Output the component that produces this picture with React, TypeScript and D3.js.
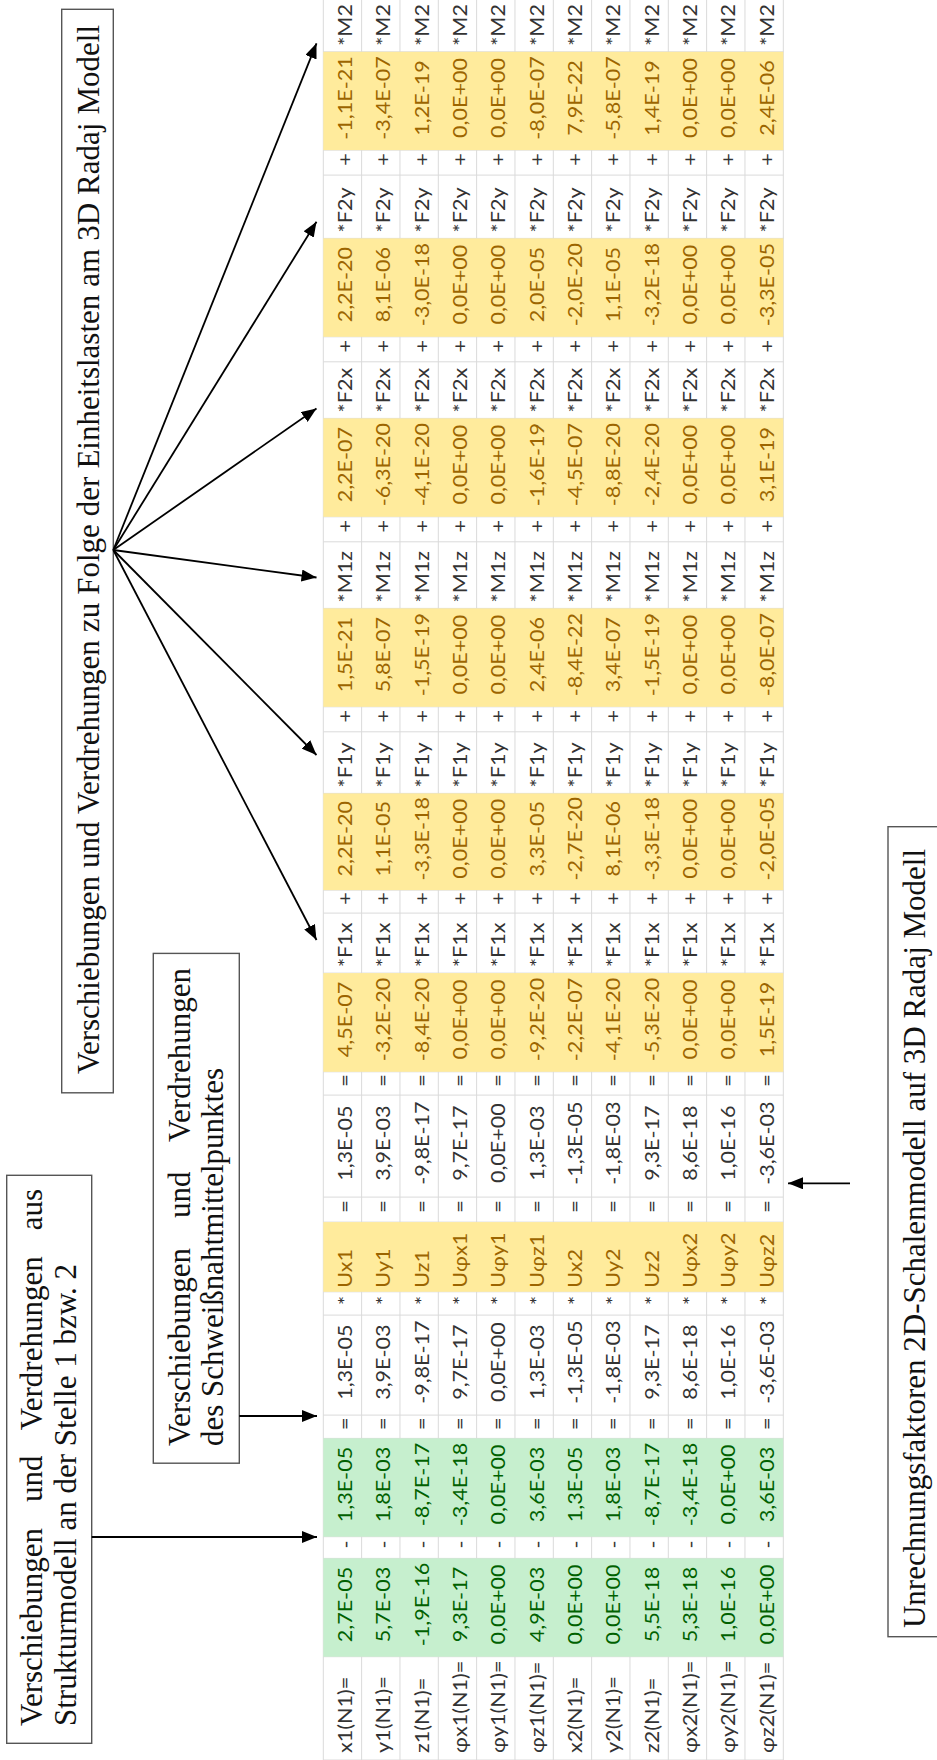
import React, { useEffect, useRef } from "react";
import * as d3 from "d3";

// ---------- data ----------
const rowLabels = ["x1(N1)=", "y1(N1)=", "z1(N1)=", "φx1(N1)=", "φy1(N1)=", "φz1(N1)=", "x2(N1)=", "y2(N1)=", "z2(N1)=", "φx2(N1)=", "φy2(N1)=", "φz2(N1)="];
const struct3D = ["2,7E-05", "5,7E-03", "-1,9E-16", "9,3E-17", "0,0E+00", "4,9E-03", "0,0E+00", "0,0E+00", "5,5E-18", "5,3E-18", "1,0E-16", "0,0E+00"];
const shell2D = ["1,3E-05", "1,8E-03", "-8,7E-17", "-3,4E-18", "0,0E+00", "3,6E-03", "1,3E-05", "1,8E-03", "-8,7E-17", "-3,4E-18", "0,0E+00", "3,6E-03"];
const diffVals = ["1,3E-05", "3,9E-03", "-9,8E-17", "9,7E-17", "0,0E+00", "1,3E-03", "-1,3E-05", "-1,8E-03", "9,3E-17", "8,6E-18", "1,0E-16", "-3,6E-03"];
const uLabels = ["Ux1", "Uy1", "Uz1", "Uφx1", "Uφy1", "Uφz1", "Ux2", "Uy2", "Uz2", "Uφx2", "Uφy2", "Uφz2"];
const weldVals = ["1,3E-05", "3,9E-03", "-9,8E-17", "9,7E-17", "0,0E+00", "1,3E-03", "-1,3E-05", "-1,8E-03", "9,3E-17", "8,6E-18", "1,0E-16", "-3,6E-03"];
const coefF1x = ["4,5E-07", "-3,2E-20", "-8,4E-20", "0,0E+00", "0,0E+00", "-9,2E-20", "-2,2E-07", "-4,1E-20", "-5,3E-20", "0,0E+00", "0,0E+00", "1,5E-19"];
const coefF1y = ["2,2E-20", "1,1E-05", "-3,3E-18", "0,0E+00", "0,0E+00", "3,3E-05", "-2,7E-20", "8,1E-06", "-3,3E-18", "0,0E+00", "0,0E+00", "-2,0E-05"];
const coefM1z = ["1,5E-21", "5,8E-07", "-1,5E-19", "0,0E+00", "0,0E+00", "2,4E-06", "-8,4E-22", "3,4E-07", "-1,5E-19", "0,0E+00", "0,0E+00", "-8,0E-07"];
const coefF2x = ["2,2E-07", "-6,3E-20", "-4,1E-20", "0,0E+00", "0,0E+00", "-1,6E-19", "-4,5E-07", "-8,8E-20", "-2,4E-20", "0,0E+00", "0,0E+00", "3,1E-19"];
const coefF2y = ["2,2E-20", "8,1E-06", "-3,0E-18", "0,0E+00", "0,0E+00", "2,0E-05", "-2,0E-20", "1,1E-05", "-3,2E-18", "0,0E+00", "0,0E+00", "-3,3E-05"];
const coefM2 = ["-1,1E-21", "-3,4E-07", "1,2E-19", "0,0E+00", "0,0E+00", "-8,0E-07", "7,9E-22", "-5,8E-07", "1,4E-19", "0,0E+00", "0,0E+00", "2,4E-06"];
const loadLabels = ["*F1x", "*F1y", "*M1z", "*F2x", "*F2y", "*M2"];
const loadCoefs = [coefF1x, coefF1y, coefM1z, coefF2x, coefF2y, coefM2];

const captionTop = "Verschiebungen und Verdrehungen zu Folge der Einheitslasten am 3D Radaj Modell";
const captionStruct = ["Verschiebungen und Verdrehungen aus", "Strukturmodell an der Stelle 1 bzw. 2"];
const captionWeld = ["Verschiebungen und Verdrehungen", "des Schweißnahtmittelpunktes"];
const captionFactors = "Unrechnungsfaktoren 2D-Schalenmodell auf 3D Radaj Modell";

// ---------- layout / style ----------
const W = 937;
const H = 1760;
const SERIF = "'Liberation Serif', 'DejaVu Serif', serif";
const SANS = "Lato, 'Open Sans', 'Noto Sans', sans-serif";
const GREEN_FILL = "#c6efce";
const GREEN_TEXT = "#006100";
const YELLOW_FILL = "#ffeb9c";
const YELLOW_TEXT = "#9c6500";
const CELL_TEXT = "#333333";
const GRID = "#dadada";

type Kind = "label" | "green" | "white" | "op" | "ulabel" | "yellow" | "load";
type ColSpec = { kind: Kind; texts: string[]; w: number };

function buildColumns(): ColSpec[] {
  const rep = (s: string) => rowLabels.map(() => s);
  const cols: ColSpec[] = [
    { kind: "label", texts: rowLabels, w: 103.3 },
    { kind: "green", texts: struct3D, w: 98.3 },
    { kind: "op", texts: rep("-"), w: 21.7 },
    { kind: "green", texts: shell2D, w: 98.3 },
    { kind: "op", texts: rep("="), w: 23.3 },
    { kind: "white", texts: diffVals, w: 100 },
    { kind: "op", texts: rep("*"), w: 23.3 },
    { kind: "ulabel", texts: uLabels, w: 69.7 },
    { kind: "op", texts: rep("="), w: 25 },
    { kind: "white", texts: weldVals, w: 102 },
    { kind: "op", texts: rep("="), w: 23.3 },
  ];
  const yW = [98.7, 96.7, 98.4, 98.4, 98.4, 98.3];
  const lW = [60, 61.6, 66.6, 56.6, 63.3, 62];
  const pW = [23, 25, 25, 25, 25];
  loadCoefs.forEach((c, i) => {
    cols.push({ kind: "yellow", texts: c, w: yW[i] });
    cols.push({ kind: "load", texts: rep(loadLabels[i]), w: lW[i] });
    if (i < pW.length) cols.push({ kind: "op", texts: rep("+"), w: pW[i] });
  });
  return cols;
}

export default function App() {
  const ref = useRef<SVGSVGElement>(null);

  useEffect(() => {
    const svg = d3.select(ref.current);
    svg.selectAll("*").remove();

    const defs = svg.append("defs");
    defs
      .append("marker")
      .attr("id", "ah")
      .attr("markerUnits", "userSpaceOnUse")
      .attr("markerWidth", 16)
      .attr("markerHeight", 12)
      .attr("refX", 15)
      .attr("refY", 6)
      .attr("orient", "auto")
      .append("path")
      .attr("d", "M0,0 L15,6 L0,12 Z")
      .attr("fill", "#000");

    const cols = buildColumns();
    const cum = [0, ...Array.from(d3.cumsum(cols.map((c) => c.w)))];
    const yPos = d3.scaleLinear().domain([0, 1000]).range([H, H - 1000]);
    const xBand = d3.scaleBand<string>().domain(rowLabels).range([323.3, 783.3]).padding(0);
    const bw = xBand.bandwidth();
    const x0 = 323.3;
    const x1 = 783.3;

    const table = svg.append("g");
    const rowEdges = rowLabels.map((l) => xBand(l) as number).concat([x1]);
    table
      .selectAll("line.rg")
      .data(rowEdges)
      .join("line")
      .attr("x1", (d) => d)
      .attr("x2", (d) => d)
      .attr("y1", yPos(cum[cum.length - 1]))
      .attr("y2", H)
      .attr("stroke", GRID)
      .attr("stroke-width", 1);
    table
      .selectAll("line.cg")
      .data(cum)
      .join("line")
      .attr("x1", x0)
      .attr("x2", x1)
      .attr("y1", (d) => yPos(d))
      .attr("y2", (d) => yPos(d))
      .attr("stroke", GRID)
      .attr("stroke-width", 1);

    cols.forEach((c, i) => {
      const fill = c.kind === "green" ? GREEN_FILL : c.kind === "yellow" || c.kind === "ulabel" ? YELLOW_FILL : null;
      if (!fill) return;
      table
        .append("rect")
        .attr("x", x0)
        .attr("y", yPos(cum[i + 1]))
        .attr("width", x1 - x0)
        .attr("height", c.w)
        .attr("fill", fill);
    });

    cols.forEach((c, i) => {
      const top = yPos(cum[i + 1]);
      const bottom = yPos(cum[i]);
      const color = c.kind === "green" ? GREEN_TEXT : c.kind === "yellow" || c.kind === "ulabel" ? YELLOW_TEXT : CELL_TEXT;
      const leftAligned = c.kind === "label" || c.kind === "ulabel" || c.kind === "load";
      const pad = c.kind === "label" ? 7 : c.kind === "ulabel" ? 4 : 6;
      const yAnchor = leftAligned ? bottom - pad : (top + bottom) / 2 - 3;
      table
        .selectAll(null)
        .data(c.texts)
        .join("text")
        .attr("transform", (_d, r) => {
          const cx = (xBand(rowLabels[r]) as number) + bw / 2 + 9.5;
          return `translate(${cx},${yAnchor}) rotate(-90) scale(1.08,1)`;
        })
        .attr("text-anchor", leftAligned ? "start" : "middle")
        .attr("font-family", SANS)
        .attr("font-size", 20)
        .attr("fill", color)
        .text((d) => d);
    });

    // ---------- annotation boxes ----------
    const ann = svg.append("g");
    const box = (x: number, y: number, w: number, h: number) =>
      ann
        .append("rect")
        .attr("x", x)
        .attr("y", y)
        .attr("width", w)
        .attr("height", h)
        .attr("fill", "#fff")
        .attr("stroke", "#555")
        .attr("stroke-width", 1.4);

    const vtext = (s: string, bx: number, y: number, anchor: string, justifyTo?: number) => {
      const t = ann
        .append("text")
        .attr("transform", `translate(${bx},${y}) rotate(-90)`)
        .attr("text-anchor", anchor)
        .attr("font-family", SERIF)
        .attr("font-size", 31)
        .attr("fill", "#111")
        .text(s);
      if (justifyTo) {
        const node = t.node() as SVGTextElement;
        const len = node.getComputedTextLength();
        const spaces = (s.match(/ /g) || []).length;
        if (spaces > 0) t.style("word-spacing", `${(justifyTo - len) / spaces}px`);
      }
      return t;
    };

    box(61.7, 9.3, 51.6, 1083.5);
    vtext(captionTop, 98.5, 1074, "start", 1049);
    box(6.7, 1175.3, 85, 568);
    vtext(captionStruct[0], 42, 1726, "start", 537);
    vtext(captionStruct[1], 76, 1726, "start");
    box(153.3, 953.4, 86, 509.8);
    vtext(captionWeld[0], 189.5, 1446, "start", 478);
    vtext(captionWeld[1], 222.5, 1446, "start");
    box(888, 826.7, 62, 810);
    vtext(captionFactors, 924.5, 1238.5, "middle");

    // ---------- arrows ----------
    const arrow = (ax: number, ay: number, bx: number, by: number) =>
      ann
        .append("line")
        .attr("x1", ax)
        .attr("y1", ay)
        .attr("x2", bx)
        .attr("y2", by)
        .attr("stroke", "#000")
        .attr("stroke-width", 1.8)
        .attr("marker-end", "url(#ah)");

    const fanTips = [43.3, 221.7, 408.5, 577.5, 755, 940];
    fanTips.forEach((ty) => arrow(113.3, 550, 316.5, ty));
    arrow(239.3, 1416, 317, 1416);
    arrow(91.7, 1537, 317, 1537);
    arrow(850, 1183.3, 788, 1183.3);
  }, []);

  return (
    <svg
      ref={ref}
      width={W}
      height={H}
      viewBox={`0 0 ${W} ${H}`}
      style={{ position: "absolute", left: 0, top: 0, background: "#fff", display: "block" }}
    />
  );
}
